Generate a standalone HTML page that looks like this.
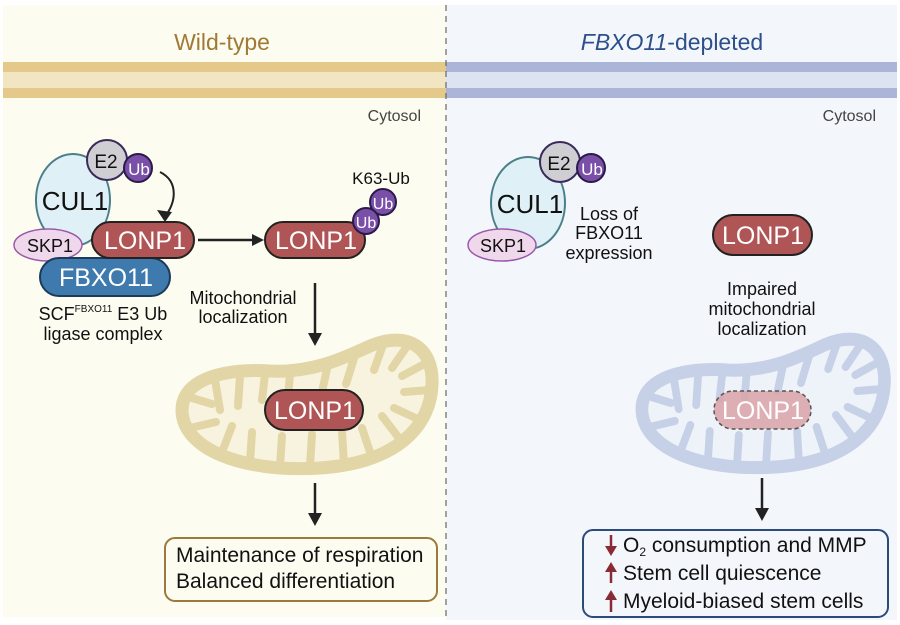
<!DOCTYPE html>
<html><head><meta charset="utf-8"><style>
html,body{margin:0;padding:0;background:#fff;}
svg{display:block;font-family:"Liberation Sans",Arial,sans-serif;}
</style></head><body>
<svg width="900" height="625" viewBox="0 0 900 625" xmlns="http://www.w3.org/2000/svg">
<defs>
<g id="mito">
<path d="M182,410 C182,377 230,368 270,371 C310,373 340,360 370,346 C408,330 434,348 432,385 C430,428 395,463 320,468 C240,473 182,448 182,410 Z" stroke-width="13"/>
<g stroke-width="8" stroke-linecap="round" fill="none">
<path d="M192,398 L212,404"/><path d="M190,428 L216,422"/>
<path d="M215,380 L220,410"/><path d="M240,376 L238,406"/><path d="M265,374 L262,400"/>
<path d="M290,374 L288,398"/><path d="M328,364 L322,392"/><path d="M356,352 L346,384"/>
<path d="M384,342 L374,370"/><path d="M410,342 L392,368"/><path d="M428,362 L402,376"/>
<path d="M430,390 L404,392"/><path d="M420,420 L394,408"/><path d="M402,442 L382,416"/>
<path d="M372,458 L362,428"/><path d="M344,464 L342,432"/><path d="M310,466 L312,434"/>
<path d="M280,466 L282,436"/><path d="M250,462 L252,432"/><path d="M222,452 L232,426"/>
</g>
</g>
</defs>
<!-- panels -->
<rect x="3" y="5" width="443" height="612" fill="#fdfcf0"/>
<rect x="446" y="5" width="451" height="615" fill="#f3f7fc"/>
<rect x="3" y="62" width="443" height="10" fill="#e4c98a"/>
<rect x="3" y="72" width="443" height="16" fill="#f2e6c2"/>
<rect x="3" y="88" width="443" height="10" fill="#e4c98a"/>
<rect x="446" y="62" width="451" height="10" fill="#aab5d8"/>
<rect x="446" y="72" width="451" height="16" fill="#dde3f0"/>
<rect x="446" y="88" width="451" height="10" fill="#aab5d8"/>
<line x1="446" y1="5" x2="446" y2="620" stroke="#666" stroke-width="1.2" stroke-dasharray="6,5"/>
<text x="222" y="50" font-size="23" fill="#a07a35" text-anchor="middle">Wild-type</text>
<text x="672" y="50" font-size="23" fill="#2d4f8a" text-anchor="middle"><tspan font-style="italic">FBXO11</tspan>-depleted</text>
<text x="421" y="121" font-size="16" fill="#444" text-anchor="end">Cytosol</text>
<text x="876" y="121" font-size="16" fill="#444" text-anchor="end">Cytosol</text>

<!-- left complex -->
<ellipse cx="73" cy="200" rx="37" ry="46" fill="#dff0f6" stroke="#4a7f88" stroke-width="2"/>
<text x="75" y="210" font-size="26" text-anchor="middle" fill="#111">CUL1</text>
<circle cx="107" cy="160" r="20" fill="#cfcfd3" stroke="#3a2a5a" stroke-width="2"/>
<text x="106" y="168" font-size="19" text-anchor="middle" fill="#111">E2</text>
<circle cx="138" cy="168" r="14" fill="#7a4fa8" stroke="#2a1a4a" stroke-width="2"/>
<text x="139" y="175" font-size="17" text-anchor="middle" fill="#fff">Ub</text>
<path d="M160,172 C180,182 175,205 165,216" fill="none" stroke="#222" stroke-width="2"/>
<path d="M157,210 L165,222 L172,212 Z" fill="#222"/>
<ellipse cx="48" cy="245" rx="34" ry="16" fill="#f0d8ec" stroke="#9a5aaa" stroke-width="1.5"/>
<text x="50" y="252" font-size="18" text-anchor="middle" fill="#111">SKP1</text>
<rect x="40" y="258" width="130" height="38" rx="19" fill="#3e7aad" stroke="#1e3a5a" stroke-width="2"/>
<text x="106" y="286" font-size="25" text-anchor="middle" fill="#fff">FBXO11</text>
<rect x="92" y="222" width="102" height="36" rx="18" fill="#b05555" stroke="#222" stroke-width="2"/>
<text x="145" y="249" font-size="25" text-anchor="middle" fill="#fff">LONP1</text>
<line x1="198" y1="240" x2="254" y2="240" stroke="#222" stroke-width="2.5"/>
<path d="M252,234 L264,240 L252,246 Z" fill="#222"/>
<rect x="265" y="222" width="100" height="36" rx="18" fill="#b05555" stroke="#222" stroke-width="2"/>
<text x="316" y="249" font-size="25" text-anchor="middle" fill="#fff">LONP1</text>
<circle cx="383" cy="202" r="13" fill="#7a4fa8" stroke="#2a1a4a" stroke-width="2"/>
<text x="383" y="209" font-size="16" text-anchor="middle" fill="#fff">Ub</text>
<circle cx="366" cy="221" r="13" fill="#7a4fa8" stroke="#2a1a4a" stroke-width="2"/>
<text x="366" y="228" font-size="16" text-anchor="middle" fill="#fff">Ub</text>
<text x="381" y="184" font-size="17" text-anchor="middle" fill="#111">K63-Ub</text>
<text x="103" y="320" font-size="18" text-anchor="middle" fill="#111">SCF<tspan font-size="10" dy="-8">FBXO11</tspan><tspan dy="8"> E3 Ub</tspan></text>
<text x="103" y="340" font-size="18" text-anchor="middle" fill="#111">ligase complex</text>
<text x="243" y="304" font-size="18" text-anchor="middle" fill="#111">Mitochondrial</text>
<text x="243" y="323" font-size="18" text-anchor="middle" fill="#111">localization</text>
<line x1="315" y1="283" x2="315" y2="335" stroke="#222" stroke-width="2.5"/>
<path d="M308,333 L315,346 L322,333 Z" fill="#222"/>

<use href="#mito" stroke="#e2d6a6" fill="#f8f3df"/>
<rect x="265" y="390" width="98" height="40" rx="20" fill="#b05555" stroke="#222" stroke-width="2"/>
<text x="315" y="419" font-size="25" text-anchor="middle" fill="#fff">LONP1</text>
<line x1="315" y1="483" x2="315" y2="515" stroke="#222" stroke-width="2.5"/>
<path d="M308,513 L315,526 L322,513 Z" fill="#222"/>
<rect x="165" y="538" width="272" height="63" rx="10" fill="#fdfcf0" stroke="#9b7a3a" stroke-width="2"/>
<text x="176" y="562" font-size="21" fill="#111">Maintenance of respiration</text>
<text x="176" y="588" font-size="21" fill="#111">Balanced differentiation</text>

<!-- right complex -->
<ellipse cx="528" cy="203" rx="37" ry="46" fill="#dff0f6" stroke="#4a7f88" stroke-width="2"/>
<text x="530" y="213" font-size="26" text-anchor="middle" fill="#111">CUL1</text>
<circle cx="560" cy="162" r="20" fill="#cfcfd3" stroke="#3a2a5a" stroke-width="2"/>
<text x="559" y="170" font-size="19" text-anchor="middle" fill="#111">E2</text>
<circle cx="591" cy="168" r="14" fill="#7a4fa8" stroke="#2a1a4a" stroke-width="2"/>
<text x="592" y="175" font-size="17" text-anchor="middle" fill="#fff">Ub</text>
<ellipse cx="502" cy="245" rx="34" ry="16" fill="#f0d8ec" stroke="#9a5aaa" stroke-width="1.5"/>
<text x="503" y="252" font-size="18" text-anchor="middle" fill="#111">SKP1</text>
<text x="609" y="220" font-size="18" text-anchor="middle" fill="#111">Loss of</text>
<text x="609" y="239" font-size="18" text-anchor="middle" fill="#111">FBXO11</text>
<text x="609" y="259" font-size="18" text-anchor="middle" fill="#111">expression</text>
<rect x="713" y="215" width="99" height="40" rx="20" fill="#b05555" stroke="#222" stroke-width="2"/>
<text x="763" y="244" font-size="25" text-anchor="middle" fill="#fff">LONP1</text>
<text x="762" y="295" font-size="18" text-anchor="middle" fill="#111">Impaired</text>
<text x="762" y="315" font-size="18" text-anchor="middle" fill="#111">mitochondrial</text>
<text x="762" y="335" font-size="18" text-anchor="middle" fill="#111">localization</text>

<g transform="translate(638,337) scale(0.97,1.0) translate(-178,-338)">
<use href="#mito" stroke="#c6d0e6" fill="#eef2f9"/>
</g>
<rect x="714" y="391" width="97" height="38" rx="19" fill="#d9a3a8" fill-opacity="0.85" stroke="#555" stroke-width="1.5" stroke-dasharray="4,3"/>
<text x="763" y="419" font-size="25" text-anchor="middle" fill="#fff">LONP1</text>
<line x1="762" y1="478" x2="762" y2="510" stroke="#222" stroke-width="2.5"/>
<path d="M755,508 L762,521 L769,508 Z" fill="#222"/>
<rect x="583" y="530" width="305" height="87" rx="10" fill="#f3f7fc" stroke="#2c4a7a" stroke-width="2"/>
<line x1="611" y1="535" x2="611" y2="548" stroke="#8a2a35" stroke-width="2.5"/><path d="M605,546 L611,556 L617,546 Z" fill="#8a2a35"/>
<text x="623" y="552" font-size="21" fill="#111">O<tspan font-size="12" dy="4">2</tspan><tspan dy="-4"> consumption and MMP</tspan></text>
<path d="M605,572 L611,562 L617,572 Z" fill="#8a2a35"/><line x1="611" y1="570" x2="611" y2="583" stroke="#8a2a35" stroke-width="2.5"/>
<text x="623" y="580" font-size="21" fill="#111">Stem cell quiescence</text>
<path d="M605,600 L611,590 L617,600 Z" fill="#8a2a35"/><line x1="611" y1="598" x2="611" y2="612" stroke="#8a2a35" stroke-width="2.5"/>
<text x="623" y="608" font-size="21" fill="#111">Myeloid-biased stem cells</text>
</svg>
</body></html>
